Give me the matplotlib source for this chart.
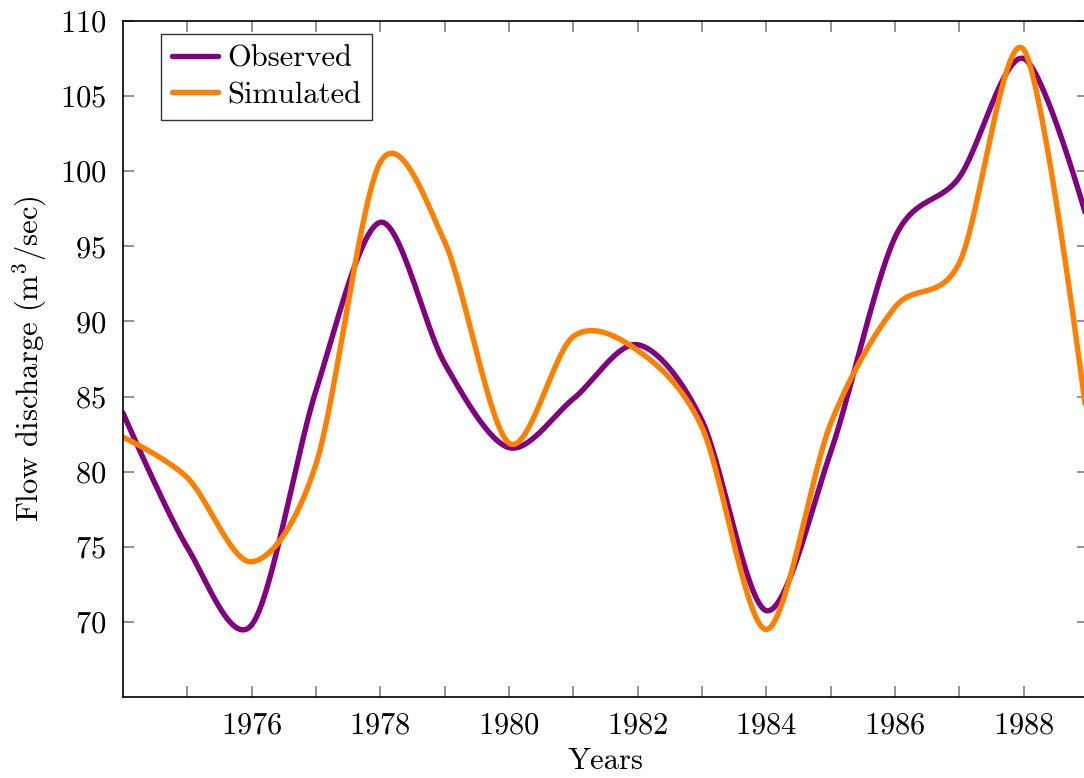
import numpy as np
import matplotlib
matplotlib.use("Agg")
import matplotlib.pyplot as plt

plt.rcParams["font.family"] = "cmr10"
plt.rcParams["mathtext.fontset"] = "cm"
plt.rcParams["axes.formatter.use_mathtext"] = True

years = [1974, 1975, 1976, 1977, 1978, 1979, 1980, 1981, 1982,
         1983, 1984, 1985, 1986, 1987, 1988, 1989]
observed = [83.9, 74.95, 69.8, 85.4, 96.6, 87.2, 81.6, 84.85, 88.45,
            83.4, 70.75, 81.3, 95.6, 99.6, 107.5, 96.6]
simulated = [82.3, 79.6, 74.0, 80.5, 100.6, 95.3, 81.9, 89.0, 88.07,
             82.95, 69.5, 83.2, 90.95, 93.9, 108.1, 83.0]

OBS_COLOR = "#800080"
SIM_COLOR = "#FF8000"
FS = 22


def smooth_curve(x, y, tension=0.55, n=60):
    """Piecewise cubic Bezier through the points (TikZ-style smooth plot)."""
    p = np.column_stack([x, y]).astype(float)
    f = 0.2775 * tension
    m = len(p)
    out = []
    for i in range(m - 1):
        p0, p3 = p[i], p[i + 1]
        c1 = p0 + f * (p[i + 1] - p[i - 1]) if i > 0 else p0
        c2 = p3 - f * (p[i + 2] - p[i]) if i + 2 < m else p3
        t = np.linspace(0, 1, n)[:, None]
        seg = ((1 - t) ** 3) * p0 + 3 * ((1 - t) ** 2) * t * c1 \
            + 3 * (1 - t) * t ** 2 * c2 + t ** 3 * p3
        out.append(seg if i == 0 else seg[1:])
    out = np.vstack(out)
    return out[:, 0], out[:, 1]


fig = plt.figure(figsize=(10.84, 7.78), dpi=100)
ax = fig.add_axes([123 / 1084, 81 / 778, 965 / 1084, 676 / 778])

ox, oy = smooth_curve(years, observed)
sx, sy = smooth_curve(years, simulated)
ax.plot(ox, oy, color=OBS_COLOR, lw=3.9, label="Observed",
        solid_capstyle="round", solid_joinstyle="round")
ax.plot(sx, sy, color=SIM_COLOR, lw=3.9, label="Simulated",
        solid_capstyle="round", solid_joinstyle="round")

ax.set_xlim(1974, 1989)
ax.set_ylim(65, 110)
ax.set_xticks(range(1976, 1989, 2))
ax.set_xticks(range(1975, 1990, 2), minor=True)
ax.set_yticks(range(70, 111, 5))
ax.tick_params(which="both", direction="in", top=True, right=True,
               length=8, width=1.2, color="#808080", labelsize=FS)
ax.tick_params(axis="x", pad=11)
ax.tick_params(axis="y", pad=12)
for s in ax.spines.values():
    s.set_linewidth(1.2)

ax.set_xlabel("Years", fontsize=FS, labelpad=6)
ax.set_ylabel(r"Flow discharge (m$^3$/sec)", fontsize=FS, labelpad=8)

leg = ax.legend(loc="upper left", bbox_to_anchor=(0.039, 0.981),
                borderaxespad=0, fontsize=FS, frameon=True, fancybox=False,
                edgecolor="black", handlelength=1.5, handletextpad=0.3,
                labelspacing=0.3, borderpad=0.37)
leg.get_frame().set_linewidth(1.0)

fig.savefig("out.png", dpi=100)
